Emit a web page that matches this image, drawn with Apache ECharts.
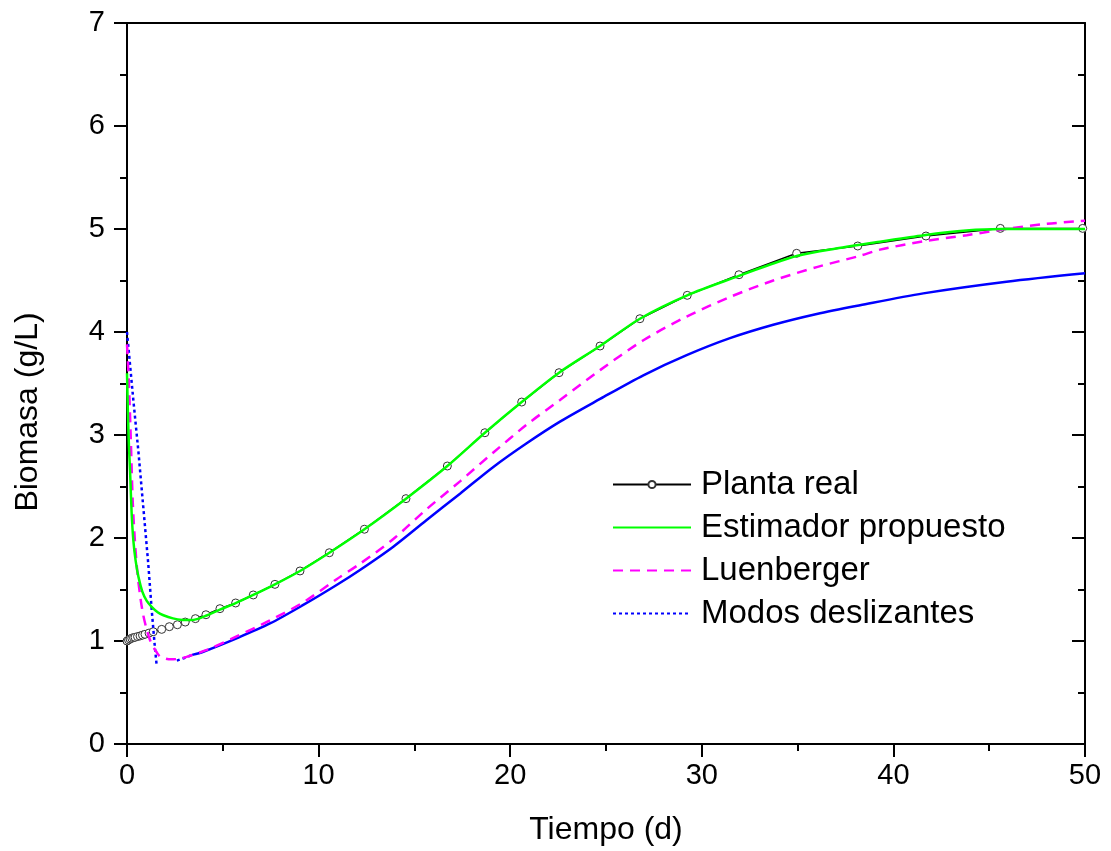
<!DOCTYPE html>
<html>
<head>
<meta charset="utf-8">
<script src="https://cdn.jsdelivr.net/npm/echarts@6/dist/echarts.min.js"></script>
<style>
html,body{margin:0;padding:0;background:#fff;}
#chart{width:1111px;height:851px;}
</style>
</head>
<body>
<div id="chart"></div>
<script>
// ---- Data ----
const xTicks = [0, 10, 20, 30, 40, 50];
const yTicks = [0, 1, 2, 3, 4, 5, 6, 7];

const plantX = [0, 0.08, 0.16, 0.25, 0.34, 0.42, 0.55, 0.68, 0.81, 0.94, 1.15, 1.37, 1.81, 2.21, 2.63, 3.04, 3.57, 4.12, 4.85, 5.67, 6.59, 7.72, 9.03, 10.56, 12.39, 14.56, 16.72, 18.68, 20.6, 22.55, 24.69, 26.77, 29.24, 31.94, 34.95, 38.14, 41.7, 45.58, 49.88];
const plantY = [1.0, 1.01, 1.02, 1.027, 1.033, 1.036, 1.043, 1.049, 1.057, 1.065, 1.077, 1.09, 1.113, 1.139, 1.158, 1.184, 1.217, 1.255, 1.314, 1.369, 1.447, 1.55, 1.68, 1.857, 2.085, 2.382, 2.699, 3.022, 3.32, 3.605, 3.864, 4.129, 4.356, 4.556, 4.764, 4.835, 4.932, 5.006, 5.006];

const estX = [0, 0.05, 0.1, 0.16, 0.24, 0.33, 0.45, 0.6, 0.8, 1.03, 1.3, 1.6, 1.9, 2.4, 2.9, 3.3, 3.7, 4.12, 4.85, 5.67, 6.59, 7.72, 9.03, 10.56, 12.39, 14.56, 16.72, 18.68, 20.6, 22.55, 24.69, 26.77, 29.24, 31.94, 33.5, 35, 37, 39.3, 41.6, 43.8, 45.6, 47.5, 50];
const estY = [3.6, 3.2, 2.9, 2.65, 2.25, 1.98, 1.78, 1.62, 1.48, 1.39, 1.33, 1.28, 1.25, 1.22, 1.205, 1.203, 1.215, 1.245, 1.305, 1.367, 1.447, 1.55, 1.68, 1.857, 2.085, 2.382, 2.699, 3.022, 3.32, 3.605, 3.864, 4.129, 4.356, 4.545, 4.65, 4.74, 4.81, 4.877, 4.94, 4.985, 5.0, 5.0, 5.0];

const luenX = [0, 0.1, 0.2, 0.3, 0.42, 0.55, 0.7, 0.85, 1.03, 1.2, 1.37, 1.55, 1.72, 2.0, 2.3, 2.8, 3.38, 4.16, 5.72, 7.46, 9.2, 10.94, 12.16, 13.9, 15.64, 17.38, 19.12, 20.86, 22.6, 24.69, 26.95, 29.21, 31.47, 33.73, 36.0, 38.26, 39.3, 41.56, 43.83, 45.9, 48.0, 50];
const luenY = [3.88, 3.5, 2.95, 2.35, 1.95, 1.65, 1.42, 1.25, 1.11, 1.01, 0.945, 0.89, 0.85, 0.83, 0.822, 0.83, 0.862, 0.913, 1.045, 1.2, 1.375, 1.6, 1.75, 1.99, 2.28, 2.55, 2.83, 3.10, 3.34, 3.63, 3.92, 4.15, 4.34, 4.50, 4.63, 4.74, 4.80, 4.88, 4.94, 5.0, 5.05, 5.08];

const smcStartX = [0, 0.16, 0.33, 0.59, 0.85, 1.11, 1.29, 1.45, 1.55, null, 2.6, 3.0, 3.4];
const smcStartY = [4.0, 3.68, 3.34, 2.85, 2.3, 1.75, 1.3, 0.95, 0.76, null, 0.81, 0.835, 0.865];
const smcX = [3.4, 3.98, 5.72, 7.46, 9.2, 10.94, 12.16, 13.9, 15.64, 17.38, 19.12, 20.86, 22.6, 24.69, 26.95, 29.21, 31.47, 33.73, 36.0, 38.26, 41.56, 45.9, 50];
const smcY = [0.865, 0.896, 1.026, 1.17, 1.35, 1.544, 1.69, 1.916, 2.175, 2.43, 2.69, 2.92, 3.13, 3.35, 3.58, 3.775, 3.94, 4.07, 4.175, 4.26, 4.375, 4.488, 4.57];

const names = ['Planta real', 'Estimador propuesto', 'Luenberger', 'Modos deslizantes'];

function pairs(xs, ys) { return xs.map((x, i) => (x === null ? [null, null] : [x, ys[i]])); }

const FONT = 'Arial, "Liberation Sans", sans-serif';
const chart = echarts.init(document.getElementById('chart'), null, { renderer: 'canvas' });

const axisCommon = {
  type: 'value',
  axisLine: { show: true, onZero: false, lineStyle: { color: '#000', width: 2 } },
  splitLine: { show: false }
};

const hiddenSymbol = { opacity: 0 };

chart.setOption({
  animation: false,
  backgroundColor: '#fff',
  grid: { left: 127, right: 26, top: 23, bottom: 107, containLabel: false },
  xAxis: [
    Object.assign({}, axisCommon, {
      position: 'bottom', min: 0, max: 50, interval: 10,
      axisTick: { show: true, inside: false, length: 13, lineStyle: { color: '#000', width: 2 } },
      minorTick: { show: true, splitNumber: 2, length: 7, lineStyle: { color: '#000', width: 2 } },
      axisLabel: { show: true, color: '#000', fontSize: 29, fontFamily: FONT, margin: 17,
        formatter: v => (xTicks.indexOf(v) >= 0 ? String(v) : '') }
    }),
    Object.assign({}, axisCommon, {
      position: 'top', min: 0, max: 50, interval: 10,
      axisTick: { show: false }, minorTick: { show: false }, axisLabel: { show: false }
    })
  ],
  yAxis: [
    Object.assign({}, axisCommon, {
      position: 'left', min: 0, max: 7, interval: 1,
      axisTick: { show: true, inside: false, length: 13, lineStyle: { color: '#000', width: 2 } },
      minorTick: { show: true, splitNumber: 2, length: 7, lineStyle: { color: '#000', width: 2 } },
      axisLabel: { show: true, color: '#000', fontSize: 29, fontFamily: FONT, margin: 22,
        formatter: v => (yTicks.indexOf(v) >= 0 ? String(v) : '') }
    }),
    Object.assign({}, axisCommon, {
      position: 'right', min: 0, max: 7, interval: 1,
      axisTick: { show: true, inside: true, length: 13, lineStyle: { color: '#000', width: 2 } },
      minorTick: { show: true, splitNumber: 2, length: 7, lineStyle: { color: '#000', width: 2 } },
      axisLabel: { show: false }
    })
  ],
  legend: {
    data: [
      { name: names[0] },
      { name: names[1], itemStyle: hiddenSymbol },
      { name: names[2], itemStyle: hiddenSymbol },
      { name: names[3], itemStyle: hiddenSymbol }
    ],
    orient: 'vertical',
    left: 612, top: 467,
    padding: 0,
    itemWidth: 78, itemHeight: 9,
    itemGap: 8,
    textStyle: { color: '#000', fontSize: 33, fontFamily: FONT, lineHeight: 35, padding: [0, 0, 0, 5] },
    selectedMode: false
  },
  graphic: [
    { type: 'text', x: 606, y: 830, style: { text: 'Tiempo (d)', font: '32px ' + FONT, fill: '#000', textAlign: 'center', textVerticalAlign: 'middle' } },
    { type: 'text', x: 28, y: 412, rotation: Math.PI / 2,
      style: { text: 'Biomasa (g/L)', font: '32px ' + FONT, fill: '#000', textAlign: 'center', textVerticalAlign: 'middle' } }
  ],
  series: [
    {
      name: 'Planta real', type: 'line', z: 1,
      data: pairs(plantX, plantY),
      symbol: 'circle', symbolSize: 8, showSymbol: true,
      lineStyle: { color: '#000', width: 1.5 },
      itemStyle: { color: '#fff', borderColor: '#333', borderWidth: 1 }
    },
    {
      name: '_smc2', type: 'line', z: 2,
      data: pairs(smcX, smcY), symbol: 'none', smooth: 0.3,
      lineStyle: { color: '#0000ff', width: 2.5 }
    },
    {
      name: 'Modos deslizantes', type: 'line', z: 2,
      data: pairs(smcStartX, smcStartY), symbol: 'none', connectNulls: false,
      lineStyle: { color: '#0000ff', width: 2.5, type: [3, 3] },
      itemStyle: { color: '#0000ff' }
    },
    {
      name: 'Luenberger', type: 'line', z: 3,
      data: pairs(luenX, luenY), symbol: 'none', smooth: 0.3,
      lineStyle: { color: '#ff00ff', width: 2.5, type: [10, 7] },
      itemStyle: { color: '#ff00ff' }
    },
    {
      name: 'Estimador propuesto', type: 'line', z: 4,
      data: pairs(estX, estY), symbol: 'none', smooth: 0.3,
      lineStyle: { color: '#00ff00', width: 2.5 },
      itemStyle: { color: '#00ff00' }
    }
  ]
});
</script>
</body>
</html>
